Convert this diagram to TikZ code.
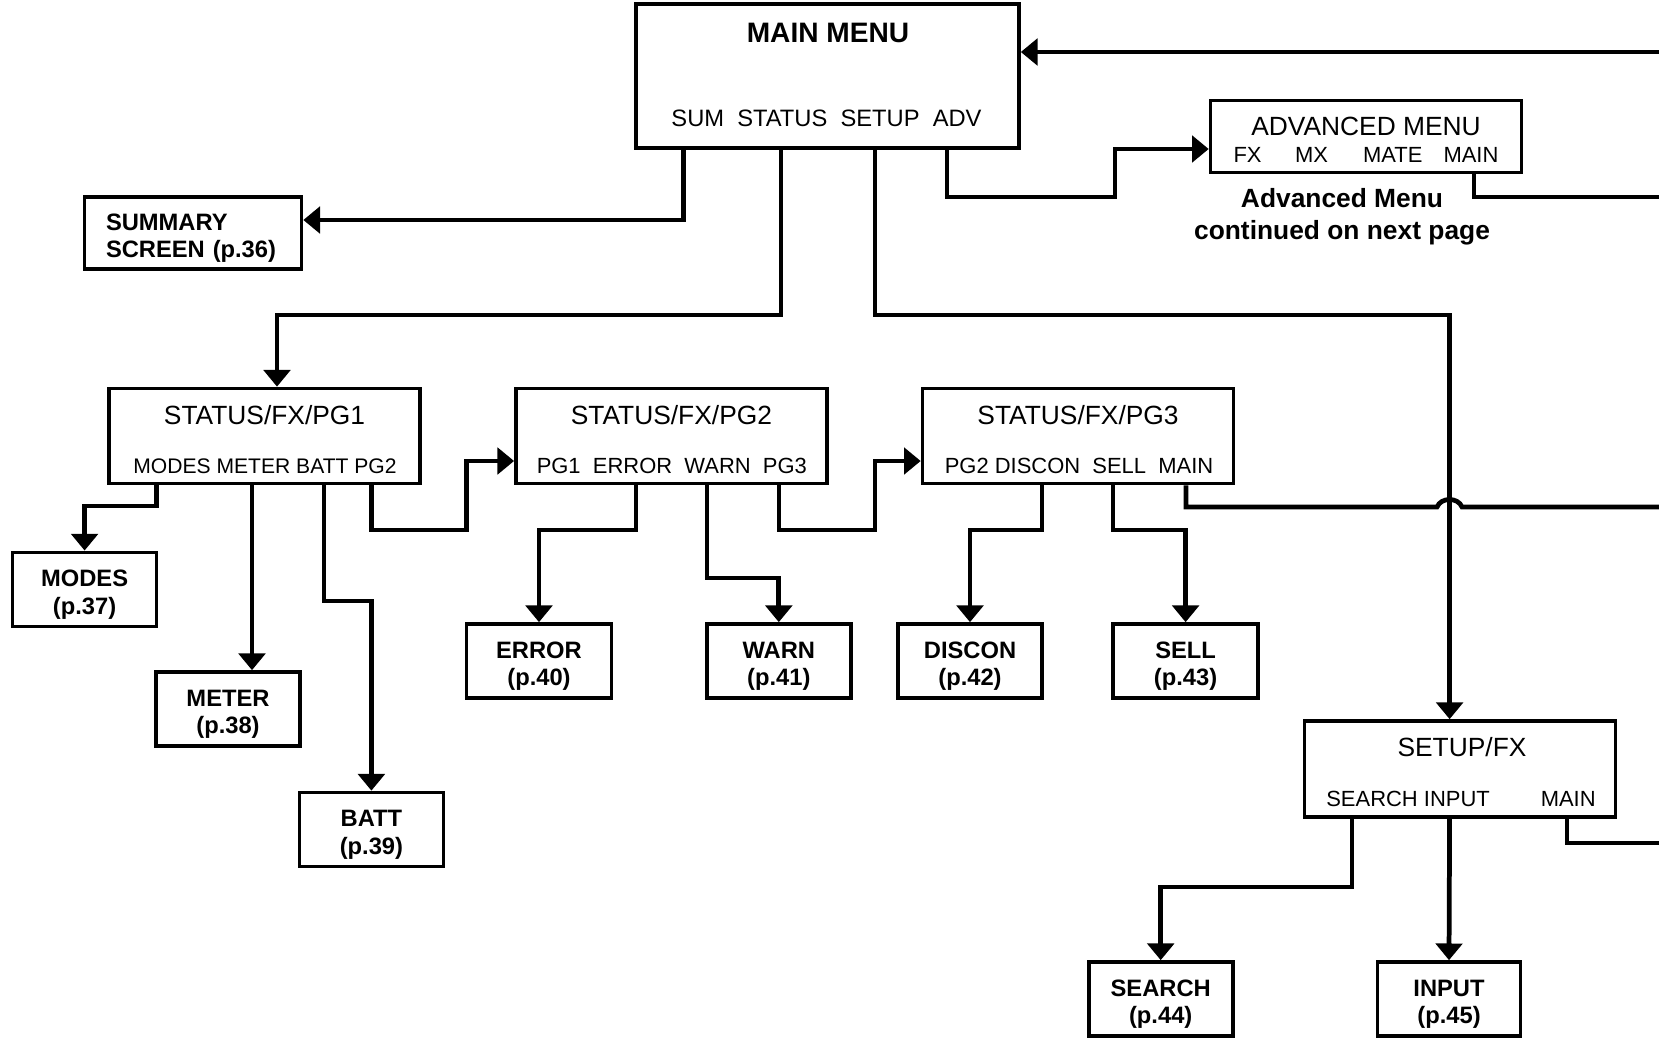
\documentclass[tikz,border=0pt]{standalone}
\usepackage{fontspec}
\setmainfont{Liberation Sans}
\usetikzlibrary{arrows.meta,positioning}
\tikzset{
	>={Triangle[length=9.5pt,width=15pt]},
	menu/.style ={rectangle, draw, line width=2.1pt, minimum width=6.22cm, minimum height=1.9cm},
	leaf/.style ={rectangle, draw, line width=2.1pt, minimum width=2.88cm, minimum height=1.48cm,
		text width=2.4cm, align=center, font=\bfseries\fontsize{13.5}{15.6}\selectfont,
		execute at begin node={\rule{0pt}{15.5pt}}},
	head/.style = {inner sep=0pt, font=\fontsize{15}{18}\selectfont},
	keys/.style = {inner sep=0pt, font=\fontsize{12.5}{15}\selectfont},
	note/.style = {inner sep=0pt, align=center, font=\bfseries\fontsize{15}{18}\selectfont},
	link/.style = {->, line width=2.7pt},
	wire/.style = {line width=2.7pt}
}

\begin{document}
\begin{tikzpicture}[x=0.02cm, y=-0.02cm]
    \useasboundingbox (0,0) rectangle (1659,1038);

    % main menu and advanced menu
    \node[menu, minimum width=7.66cm, minimum height=2.88cm] (main) at (827.5,76) {};
    \node[head, font=\bfseries\fontsize{16}{19}\selectfont] (mainT) at (828,33) {MAIN MENU};
    \node[keys, font=\fontsize{13.5}{16}\selectfont] (mainK) at (826.5,118.5) {SUM\ \ STATUS\ \ SETUP\ \ ADV};

    \node[menu, minimum height=1.44cm] (adv) at (1366,136.5) {};
    \node[head] (advT) at (1366,126) {ADVANCED MENU};
    \node[keys] (advK) at (1366,154.5) {FX\hspace{19pt}MX\hspace{20pt}MATE\hspace{12pt}MAIN};
    \node[note] (advN) at (1342,217) {Advanced Menu\\continued on next page};

    \node[leaf, align=left, text width=3.48cm, inner xsep=0.43cm, minimum width=4.34cm, minimum height=1.44cm] (summ) at (193,233) {SUMMARY\\SCREEN (p.36)};

    % status pages
    \node[menu] (pg1) at (264.5,436) {};
    \node[head] (pg1T) at (264.5,415) {STATUS/FX/PG1};
    \node[keys, font=\fontsize{12}{15}\selectfont] (pg1K) at (265,466) {MODES METER BATT PG2};

    \node[menu] (pg2) at (671.4,436) {};
    \node[head] (pg2T) at (671.4,415) {STATUS/FX/PG2};
    \node[keys] (pg2K) at (671.8,466) {PG1\ \ ERROR\ \ WARN\ \ PG3};

    \node[menu] (pg3) at (1078,436) {};
    \node[head] (pg3T) at (1078,415) {STATUS/FX/PG3};
    \node[keys] (pg3K) at (1079,466) {PG2\ DISCON\ \ SELL\ \ MAIN};

    \node[menu, minimum height=1.92cm] (setup) at (1460,769) {};
    \node[head] (setupT) at (1462,747) {SETUP/FX};
    \node[keys] (setupK) at (1461,799) {SEARCH INPUT\hspace{29pt}MAIN};

    % screens
    \node[leaf] (modes) at (84.6,589.4) {MODES\\(p.37)};
    \node[leaf] (meter) at (228,709) {METER\\(p.38)};
    \node[leaf] (batt) at (371.4,829.5) {BATT\\(p.39)};
    \node[leaf, minimum width=2.9cm] (error) at (539,661) {ERROR\\(p.40)};
    \node[leaf] (warn) at (778.8,661) {WARN\\(p.41)};
    \node[leaf] (discon) at (970,661) {DISCON\\(p.42)};
    \node[leaf, minimum width=2.9cm] (sell) at (1185.6,661) {SELL\\(p.43)};
    \node[leaf] (search) at (1160.7,999) {SEARCH\\(p.44)};
    \node[leaf, minimum width=2.86cm] (input) at (1449,999) {INPUT\\(p.45)};

    % loose ends at the page edge
    \coordinate (mainin) at (1659,52);
    \coordinate (advout) at (1659,197);
    \coordinate (pg3out) at (1659,507);
    \coordinate (setupout) at (1659,843);

    % from main menu
    \draw[link] (mainin) -- (mainin -| main.east);
    \draw[link] (main.south -| 683.5,0) |- (summ.east |- 0,220);
    \draw[link] (main.south -| 781,0) |- (277,315) -- (pg1.north -| 277,0);
    \draw[link] (main.south -| 875,0) |- (1449.6,315) -- (setup.north -| 1449.6,0);
    \draw[link] (main.south -| 947,0) |- (1115,197) |- (adv.west |- 0,149);
    \draw[wire] (adv.south -| 1474,0) |- (advout);

    % from status pages
    \draw[link] (pg1.south -| 156.6,0) |- (84.6,506) -- (modes.north);
    \draw[link] (pg1.south -| 252,0) -- (meter.north -| 252,0);
    \draw[link] (pg1.south -| 324,0) |- (371.4,601) -- (batt.north);
    \draw[link] (pg1.south -| 371.4,0) |- (466.6,530) |- (pg2.west |- 0,461);

    \draw[link] (pg2.south -| 636,0) |- (539,530) -- (error.north);
    \draw[link] (pg2.south -| 707,0) |- (778.8,578) -- (warn.north);
    \draw[link] (pg2.south -| 779,0) |- (875,530) |- (pg3.west |- 0,461);

    \draw[link] (pg3.south -| 1042,0) |- (970,530) -- (discon.north);
    \draw[link] (pg3.south -| 1113,0) |- (1185.6,530) -- (sell.north);
    \draw[wire] (pg3.south -| 1186,0) |- (1437,507) .. controls (1441,497) and (1458,497) .. (1462,507) -- (pg3out);

    % from setup
    \draw[link] (setup.south -| 1352,0) |- (1160.7,887) -- (search.north);
    \draw[link] (setup.south -| 1449.6,0) -- (input.north);
    \draw[wire] (setup.south -| 1567,0) |- (setupout);

\end{tikzpicture}
\end{document}
